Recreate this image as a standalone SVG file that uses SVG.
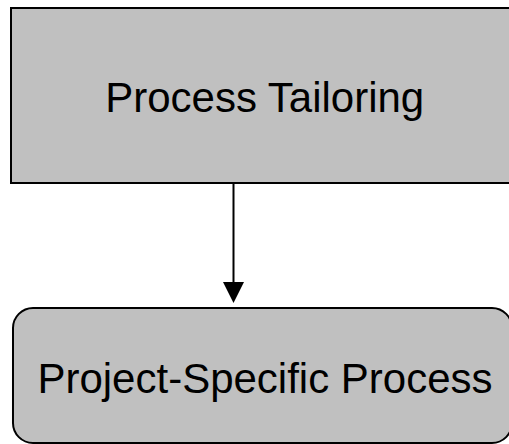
<svg xmlns="http://www.w3.org/2000/svg" width="509" height="444" viewBox="0 0 509 444">
  <style>
    .box { fill: #c0c0c0; stroke: #000; stroke-width: 2; }
    .label { font-family: "Liberation Sans", Arial, sans-serif; font-size: 42px; fill: #000; text-anchor: middle; }
    .edge { stroke: #000; stroke-width: 2; fill: none; }
    .head { fill: #000; }
  </style>
  <g id="process-tailoring">
    <rect class="box" x="11" y="8" width="510" height="175"/>
    <text class="label" x="264.7" y="112">Process Tailoring</text>
  </g>
  <g id="connectors">
    <line class="edge" x1="233.5" y1="184" x2="233.5" y2="284"/>
    <polygon class="head" points="223,282 244,282 233.5,303"/>
  </g>
  <g id="project-specific-process">
    <rect class="box" x="13" y="308" width="499" height="135" rx="20" ry="20"/>
    <text class="label" x="265" y="393">Project-Specific Process</text>
  </g>
</svg>
